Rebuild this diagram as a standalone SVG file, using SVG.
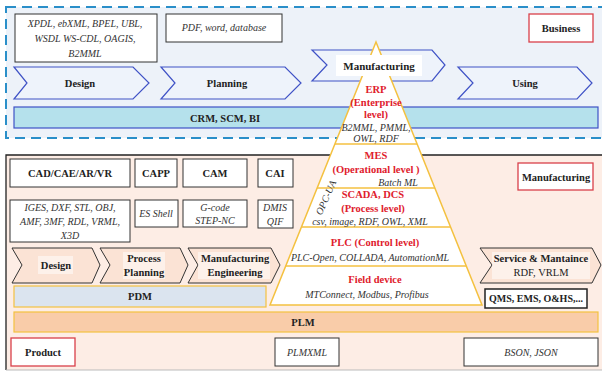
<svg xmlns="http://www.w3.org/2000/svg" width="602" height="372" viewBox="0 0 602 372">
<defs>
<style>
.t{font-family:"Liberation Serif","Times New Roman",serif;fill:#222;text-anchor:middle}
.b{font-weight:bold}
.i{font-style:italic;fill:#333}
.r{fill:#e0202c;font-weight:bold}
.box{fill:#fff;stroke:#333;stroke-width:1}
.rbox{fill:#fff;stroke:#d9404a;stroke-width:1.3}
.chevT{fill:#eef3fb;stroke:#3f52c6;stroke-width:1.2}
.chevB{fill:#fbe3d5;stroke:#333;stroke-width:1}
.lab{fill:#fff;opacity:0.5}
.pyr{fill:#fff;stroke:#f4c140;stroke-width:1.5}
.lay{stroke:#f4c140;stroke-width:1.3}
</style>
</defs>
<rect width="602" height="372" fill="#fff"/>
<g id="business-panel">
<rect x="6" y="7" width="600" height="131" fill="#edf2f9" stroke="#2a8fc9" stroke-width="2" stroke-dasharray="10 6"/>
</g>
<g id="manufacturing-panel">
<rect x="6" y="155" width="600" height="215" fill="#fdede5"/>
<path d="M6,370 V155 H602" fill="none" stroke="#222" stroke-width="1.3"/>
<line x1="6" y1="370" x2="602" y2="370" stroke="#bbb" stroke-width="1"/>
</g>
<g id="connectors"/>
<g id="box-xpdl">
<rect class="box" x="15" y="14" width="142" height="48"/>
<text class="t i" font-size="10" x="85" y="27">XPDL, ebXML, BPEL, UBL,</text>
<text class="t i" font-size="10" x="85" y="42">WSDL WS-CDL, OAGIS,</text>
<text class="t i" font-size="10" x="85" y="57">B2MML</text>
</g>
<g id="box-pdf">
<rect class="box" x="166" y="14" width="116" height="28"/>
<text class="t i" font-size="10" x="224" y="31">PDF, word, database</text>
</g>
<g id="box-business">
<rect class="rbox" x="529" y="14" width="64" height="28"/>
<text class="t b" font-size="10.5" x="561" y="32">Business</text>
</g>
<g id="chev-design-top">
<polygon class="chevT" points="14,67 133,67 149,83 133,99 14,99 27,83"/>
<text class="t b" font-size="10.5" x="80" y="87">Design</text>
</g>
<g id="chev-planning-top">
<polygon class="chevT" points="161,67 285,67 301,83 285,99 161,99 175,83"/>
<text class="t b" font-size="10.5" x="227" y="87">Planning</text>
</g>
<g id="chev-using-top">
<polygon class="chevT" points="458,67 577,67 592,83 577,99 458,99 473,83"/>
<text class="t b" font-size="10.5" x="525" y="87">Using</text>
</g>
<g id="bar-crm">
<rect x="14" y="107" width="584" height="21" fill="#b5e1ec" stroke="#3f52c6" stroke-width="1.2"/>
<text class="t b" font-size="10.5" x="225" y="122">CRM, SCM, BI</text>
</g>
<g id="chev-manufacturing-top">
<polygon class="chevT" points="312,50 432,50 445,65 432,81 312,81 327,65"/>
</g>
<g id="box-cad">
<rect class="box" x="10" y="159" width="120" height="28"/>
<text class="t b" font-size="10.5" x="70" y="177">CAD/CAE/AR/VR</text>
</g>
<g id="box-capp">
<rect class="box" x="135" y="159" width="42" height="28"/>
<text class="t b" font-size="10.5" x="156" y="177">CAPP</text>
</g>
<g id="box-cam">
<rect class="box" x="183" y="159" width="64" height="28"/>
<text class="t b" font-size="10.5" x="215" y="177">CAM</text>
</g>
<g id="box-cai">
<rect class="box" x="258" y="159" width="35" height="28"/>
<text class="t b" font-size="10.5" x="275" y="177">CAI</text>
</g>
<g id="box-iges">
<rect class="box" x="10" y="200" width="120" height="42"/>
<text class="t i" font-size="10" x="70" y="211">IGES, DXF, STL, OBJ,</text>
<text class="t i" font-size="10" x="70" y="225">AMF, 3MF, RDL, VRML,</text>
<text class="t i" font-size="10" x="70" y="239">X3D</text>
</g>
<g id="box-esshell">
<rect class="box" x="135" y="200" width="43" height="27"/>
<text class="t i" font-size="10" x="156" y="217">ES Shell</text>
</g>
<g id="box-gcode">
<rect class="box" x="183" y="200" width="64" height="27"/>
<text class="t i" font-size="10" x="215" y="211">G-code</text>
<text class="t i" font-size="10" x="215" y="224">STEP-NC</text>
</g>
<g id="box-dmis">
<rect class="box" x="258" y="200" width="35" height="28"/>
<text class="t i" font-size="10" x="275" y="211">DMIS</text>
<text class="t i" font-size="10" x="275" y="225">QIF</text>
</g>
<g id="box-manufacturing">
<rect class="rbox" x="518" y="163" width="75" height="27"/>
<text class="t b" font-size="10.5" x="556" y="181">Manufacturing</text>
</g>
<g id="chev-design-bottom">
<polygon class="chevB" points="12,248 92,248 100,265 92,283 12,283 22,265"/>
<rect class="lab" x="38" y="256" width="35" height="18"/>
<text class="t b" font-size="10.5" x="56" y="269">Design</text>
</g>
<g id="chev-process-planning">
<polygon class="chevB" points="100,248 180,248 188,265 180,283 100,283 110,265"/>
<rect class="lab" x="123" y="252" width="42" height="27"/>
<text class="t b" font-size="10.5" x="144" y="262">Process</text>
<text class="t b" font-size="10.5" x="144" y="276">Planning</text>
</g>
<g id="chev-manufacturing-engineering">
<polygon class="chevB" points="188,248 271,248 280,265 271,283 188,283 198,265"/>
<rect class="lab" x="198" y="252" width="72" height="27"/>
<text class="t b" font-size="10.5" x="235" y="262">Manufacturing</text>
<text class="t b" font-size="10.5" x="235" y="276">Engineering</text>
</g>
<g id="bar-pdm">
<rect x="14" y="286" width="252" height="21" fill="#dbe4ef" stroke="#f4c140" stroke-width="1.2"/>
<text class="t b" font-size="10.5" x="140" y="300">PDM</text>
</g>
<g id="chev-service">
<polygon class="chevB" points="480,248 592,248 601,265 592,283 480,283 492,265"/>
<rect class="lab" x="492" y="252" width="98" height="27"/>
<text class="t b" font-size="10.5" x="541" y="262">Service &amp; Mantaince</text>
<text class="t" font-size="10.5" x="541" y="276">RDF, VRLM</text>
</g>
<g id="box-qms">
<rect x="485" y="289" width="102" height="19" fill="#fff" stroke="#222" stroke-width="1.5"/>
<text class="t b" font-size="10" x="536" y="302">QMS, EMS, O&amp;HS,...</text>
</g>
<g id="bar-plm">
<rect x="14" y="312" width="584" height="20" fill="#f9cca9" stroke="#f4c140" stroke-width="1.2"/>
<text class="t b" font-size="10.5" x="303" y="326">PLM</text>
</g>
<g id="box-product">
<rect class="rbox" x="11" y="338" width="64" height="28"/>
<text class="t b" font-size="10.5" x="43" y="356">Product</text>
</g>
<g id="box-plmxml">
<rect class="box" x="275" y="338" width="64" height="28"/>
<text class="t i" font-size="10" x="307" y="356">PLMXML</text>
</g>
<g id="box-bson">
<rect class="box" x="464" y="338" width="134" height="28"/>
<text class="t i" font-size="10" x="531" y="356">BSON, JSON</text>
</g>
<g id="pyramid">
<polygon class="pyr" points="376,42 482,305 270,305"/>
<line class="lay" x1="335" y1="144" x2="417" y2="144"/>
<line class="lay" x1="317" y1="188" x2="435" y2="188"/>
<line class="lay" x1="302" y1="227" x2="450" y2="227"/>
<line class="lay" x1="286" y1="266" x2="466" y2="266"/>
</g>
<g id="label-manufacturing-top">
<rect x="336" y="55" width="86" height="21" fill="#fff"/>
<text class="t b" font-size="11" x="379" y="70">Manufacturing</text>
</g>
<g id="layer-erp">
<text class="t r" font-size="10.5" x="376" y="93">ERP</text>
<text class="t r" font-size="10.5" x="376" y="106">(Enterprise</text>
<text class="t r" font-size="10.5" x="376" y="118">level)</text>
<text class="t i" font-size="10" x="376" y="131">B2MML, PMML,</text>
<text class="t i" font-size="10" x="376" y="142">OWL, RDF</text>
</g>
<g id="layer-mes">
<text class="t r" font-size="10.5" x="376" y="159">MES</text>
<text class="t r" font-size="10.5" x="376" y="173">(Operational level )</text>
<text class="t i" font-size="10" x="398" y="186">Batch ML</text>
</g>
<g id="layer-scada">
<text class="t r" font-size="10.5" x="373" y="198">SCADA, DCS</text>
<text class="t r" font-size="10.5" x="373" y="212">(Process level)</text>
<text class="t i" font-size="10" x="370" y="225">csv, image, RDF, OWL, XML</text>
<text class="t i" font-size="10" x="0" y="0" transform="translate(329,199) rotate(-66)">OPC-UA</text>
</g>
<g id="layer-plc">
<text class="t r" font-size="10.5" x="375" y="246">PLC (Control level)</text>
<text class="t i" font-size="10" x="370" y="261">PLC-Open, COLLADA, AutomationML</text>
</g>
<g id="layer-field">
<text class="t r" font-size="10.5" x="375" y="283">Field device</text>
<text class="t i" font-size="10" x="367" y="298">MTConnect, Modbus, Profibus</text>
</g>
</svg>
